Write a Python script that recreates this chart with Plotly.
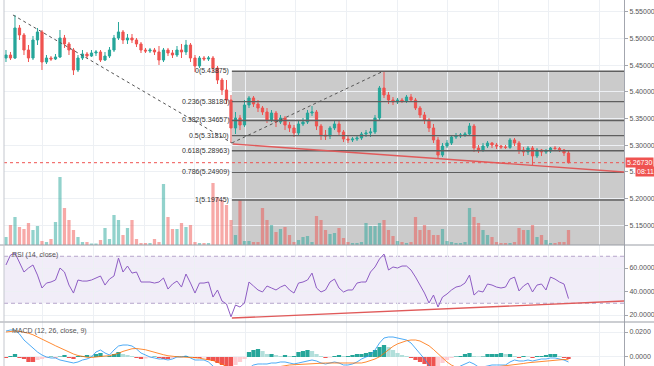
import plotly.graph_objects as go

# ---------------- data ----------------
open_ = [5.4637, 5.4693, 5.4637, 5.5200, 5.5069, 5.4787, 5.4637, 5.4975, 5.5125, 5.4562,
         5.4637, 5.4618, 5.4656, 5.5012, 5.4900, 5.4787, 5.4412, 5.4637, 5.4712, 5.4674,
         5.4731, 5.4750, 5.4599, 5.4674, 5.4787, 5.5012, 5.5125, 5.4975, 5.5012, 5.4975,
         5.4900, 5.4787, 5.4768, 5.4787, 5.4750, 5.4599, 5.4787, 5.4731, 5.4693, 5.4787,
         5.4750, 5.4881, 5.4637, 5.4487, 5.4637, 5.4618, 5.4637, 5.4449, 5.4224, 5.4037,
         5.3849, 5.3324, 5.3511, 5.3380, 5.3755, 5.3887, 5.3774, 5.3699, 5.3624, 5.3474,
         5.3605, 5.3436, 5.3511, 5.3380, 5.3324, 5.3230, 5.3399, 5.3436, 5.3605, 5.3624,
         5.3361, 5.3192, 5.3174, 5.3324, 5.3399, 5.3249, 5.3117, 5.3099, 5.3117, 5.3136,
         5.3211, 5.3230, 5.3249, 5.3511, 5.4074, 5.3943, 5.3849, 5.3812, 5.3849, 5.3830,
         5.3905, 5.3849, 5.3699, 5.3568, 5.3474, 5.3324, 5.3099, 5.2817, 5.2986, 5.3042,
         5.3155, 5.3174, 5.3192, 5.3211, 5.3361, 5.2948, 5.2911, 5.2986, 5.3042, 5.3005,
         5.2986, 5.2967, 5.2960, 5.3099, 5.3042, 5.2911, 5.2873, 5.2948, 5.2798, 5.2911,
         5.2873, 5.2892, 5.2948, 5.2939, 5.2911, 5.2855]
high = [5.4787, 5.4750, 5.5444, 5.5256, 5.5106, 5.4881, 5.5050, 5.5200, 5.5162, 5.4693,
        5.4674, 5.4712, 5.5162, 5.5069, 5.4937, 5.4825, 5.4693, 5.4787, 5.4750, 5.4787,
        5.4787, 5.4787, 5.4750, 5.4843, 5.5069, 5.5312, 5.5162, 5.5087, 5.5087, 5.5012,
        5.4937, 5.4825, 5.4825, 5.4825, 5.4862, 5.4825, 5.4825, 5.4787, 5.4862, 5.4900,
        5.4975, 5.4918, 5.4693, 5.4674, 5.4674, 5.4674, 5.4674, 5.4487, 5.4262, 5.4224,
        5.3943, 5.3624, 5.3568, 5.3849, 5.3924, 5.3924, 5.3849, 5.3736, 5.3699, 5.3661,
        5.3643, 5.3568, 5.3549, 5.3436, 5.3380, 5.3455, 5.3511, 5.3661, 5.3736, 5.3661,
        5.3399, 5.3286, 5.3361, 5.3474, 5.3455, 5.3286, 5.3174, 5.3155, 5.3192, 5.3249,
        5.3286, 5.3324, 5.3568, 5.4112, 5.4393, 5.3999, 5.3905, 5.3887, 5.3887, 5.3943,
        5.3962, 5.3887, 5.3736, 5.3624, 5.3511, 5.3399, 5.3155, 5.3042, 5.3099, 5.3192,
        5.3230, 5.3230, 5.3249, 5.3417, 5.3399, 5.3005, 5.3042, 5.3080, 5.3061, 5.3042,
        5.3005, 5.3005, 5.3136, 5.3136, 5.3080, 5.2967, 5.2986, 5.2986, 5.2948, 5.2930,
        5.2930, 5.2967, 5.2986, 5.2967, 5.2930, 5.2892]
low = [5.4562, 5.4599, 5.4618, 5.4975, 5.4693, 5.4562, 5.4599, 5.4881, 5.4412, 5.4524,
       5.4581, 5.4599, 5.4637, 5.4825, 5.4693, 5.4318, 5.4374, 5.4599, 5.4637, 5.4656,
       5.4674, 5.4562, 5.4581, 5.4637, 5.4750, 5.4975, 5.4900, 5.4900, 5.4918, 5.4843,
       5.4731, 5.4731, 5.4731, 5.4693, 5.4506, 5.4562, 5.4674, 5.4637, 5.4656, 5.4637,
       5.4693, 5.4562, 5.4374, 5.4449, 5.4581, 5.4581, 5.4374, 5.4149, 5.3943, 5.3774,
       5.3042, 5.3211, 5.3286, 5.3342, 5.3699, 5.3718, 5.3624, 5.3568, 5.3417, 5.3436,
       5.3342, 5.3399, 5.3286, 5.3249, 5.3155, 5.3192, 5.3361, 5.3399, 5.3549, 5.3286,
       5.3099, 5.3099, 5.3117, 5.3286, 5.3174, 5.3061, 5.3042, 5.3061, 5.3080, 5.3099,
       5.3155, 5.3155, 5.3211, 5.3474, 5.3887, 5.3774, 5.3755, 5.3774, 5.3793, 5.3793,
       5.3812, 5.3661, 5.3511, 5.3399, 5.3249, 5.3042, 5.2761, 5.2780, 5.2948, 5.3005,
       5.3117, 5.3136, 5.3155, 5.3174, 5.2873, 5.2855, 5.2873, 5.2948, 5.2948, 5.2930,
       5.2930, 5.2930, 5.2930, 5.2986, 5.2836, 5.2798, 5.2817, 5.2630, 5.2761, 5.2798,
       5.2836, 5.2855, 5.2892, 5.2873, 5.2798, 5.2658]
close = [5.4693, 5.4637, 5.5200, 5.5069, 5.4787, 5.4637, 5.4975, 5.5125, 5.4562, 5.4637,
         5.4618, 5.4656, 5.5012, 5.4900, 5.4787, 5.4412, 5.4637, 5.4712, 5.4674, 5.4731,
         5.4750, 5.4599, 5.4674, 5.4787, 5.5012, 5.5125, 5.4975, 5.5012, 5.4975, 5.4900,
         5.4787, 5.4768, 5.4787, 5.4750, 5.4599, 5.4787, 5.4731, 5.4693, 5.4787, 5.4750,
         5.4881, 5.4637, 5.4487, 5.4637, 5.4618, 5.4637, 5.4449, 5.4224, 5.4037, 5.3849,
         5.3324, 5.3511, 5.3380, 5.3755, 5.3887, 5.3774, 5.3699, 5.3624, 5.3474, 5.3605,
         5.3436, 5.3511, 5.3380, 5.3324, 5.3230, 5.3399, 5.3436, 5.3605, 5.3624, 5.3361,
         5.3192, 5.3174, 5.3324, 5.3399, 5.3249, 5.3117, 5.3099, 5.3117, 5.3136, 5.3211,
         5.3230, 5.3249, 5.3511, 5.4074, 5.3943, 5.3849, 5.3812, 5.3849, 5.3830, 5.3905,
         5.3849, 5.3699, 5.3568, 5.3474, 5.3324, 5.3099, 5.2817, 5.2986, 5.3042, 5.3155,
         5.3174, 5.3192, 5.3211, 5.3361, 5.2948, 5.2911, 5.2986, 5.3042, 5.3005, 5.2986,
         5.2967, 5.2960, 5.3099, 5.3042, 5.2911, 5.2873, 5.2948, 5.2798, 5.2911, 5.2873,
         5.2892, 5.2948, 5.2939, 5.2911, 5.2855, 5.2673]
volume = [80, 200, 280, 180, 160, 220, 150, 190, 40, 30,
          60, 230, 680, 370, 250, 150, 80, 30, 30, 15,
          15, 50, 170, 60, 300, 250, 100, 170, 250, 60,
          20, 20, 20, 60, 30, 610, 280, 160, 160, 220,
          180, 200, 30, 20, 20, 20, 620, 480, 450, 400,
          250, 100, 450, 40, 40, 30, 30, 370, 250, 200,
          130, 160, 180, 100, 30, 50, 80, 90, 30, 290,
          250, 150, 110, 120, 170, 70, 30, 20, 20, 30,
          220, 190, 190, 220, 250, 150, 90, 40, 30, 20,
          30, 280, 150, 200, 150, 100, 100, 160, 40, 30,
          20, 20, 30, 370, 280, 220, 150, 100, 80, 30,
          20, 20, 20, 30, 170, 150, 150, 200, 80, 100,
          50, 20, 20, 30, 30, 150]
rsi = [62.6, 71.0, 72.8, 65.0, 56.6, 60.0, 62.6, 54.0, 43.0, 47.2,
       48.1, 49.8, 60.0, 56.6, 45.5, 38.7, 49.8, 48.9, 48.9, 49.8,
       51.5, 53.2, 45.5, 50.6, 53.2, 68.5, 56.6, 61.7, 55.7, 56.6,
       48.1, 48.1, 48.1, 47.2, 48.1, 51.5, 42.1, 46.4, 48.9, 43.8,
       54.9, 47.2, 38.7, 47.2, 47.2, 48.1, 35.3, 41.3, 31.9, 29.4,
       18.5, 28.5, 26.8, 30.2, 48.1, 44.7, 41.3, 39.6, 44.7, 43.0,
       41.3, 43.8, 45.5, 41.3, 38.7, 47.2, 48.1, 49.8, 55.7, 43.0,
       39.6, 41.3, 48.1, 50.6, 43.0, 39.6, 41.3, 41.3, 47.2, 48.1,
       48.1, 56.6, 60.9, 67.7, 71.9, 58.3, 60.9, 60.0, 61.7, 61.7,
       58.3, 52.3, 45.5, 38.7, 30.2, 37.0, 26.8, 35.3, 37.9, 41.3,
       43.8, 44.7, 47.2, 54.0, 37.0, 40.5, 39.6, 46.4, 45.5, 43.8,
       43.0, 43.8, 50.6, 52.3, 40.5, 44.7, 47.2, 39.6, 45.5, 46.4,
       41.3, 52.3, 50.6, 48.1, 46.4, 34.0]
macd = [0.0208, 0.0216, 0.0216, 0.0184, 0.0136, 0.0104, 0.0080, 0.0040, 0.0016, 0.0000,
        -0.0008, -0.0008, -0.0024, -0.0032, -0.0040, -0.0048, -0.0040, -0.0024, -0.0016, 0.0000,
        0.0040, 0.0056, 0.0032, 0.0016, 0.0056, 0.0088, 0.0096, 0.0096, 0.0088, 0.0064,
        0.0032, 0.0016, 0.0000, -0.0008, -0.0016, -0.0016, -0.0024, -0.0016, 0.0000, 0.0000,
        0.0008, -0.0008, -0.0024, -0.0024, -0.0024, -0.0040, -0.0072, -0.0096, -0.0128, -0.0160,
        -0.0200, -0.0192, -0.0176, -0.0136, -0.0088, -0.0064, -0.0056, -0.0056, -0.0056, -0.0048,
        -0.0048, -0.0040, -0.0040, -0.0048, -0.0056, -0.0048, -0.0040, -0.0032, -0.0024, -0.0032,
        -0.0048, -0.0056, -0.0048, -0.0040, -0.0048, -0.0064, -0.0064, -0.0056, -0.0040, -0.0016,
        0.0000, 0.0016, 0.0056, 0.0112, 0.0152, 0.0160, 0.0160, 0.0152, 0.0144, 0.0136,
        0.0112, 0.0072, 0.0032, -0.0016, -0.0064, -0.0104, -0.0152, -0.0152, -0.0136, -0.0112,
        -0.0096, -0.0072, -0.0056, -0.0040, -0.0056, -0.0080, -0.0080, -0.0072, -0.0064, -0.0064,
        -0.0064, -0.0064, -0.0040, -0.0024, -0.0032, -0.0032, -0.0024, -0.0032, -0.0024, -0.0016,
        -0.0016, -0.0008, -0.0008, -0.0016, -0.0024, -0.0040]
signal = [0.0200, 0.0205, 0.0208, 0.0206, 0.0200, 0.0190, 0.0178, 0.0162, 0.0144, 0.0125,
          0.0108, 0.0090, 0.0072, 0.0055, 0.0040, 0.0024, 0.0012, 0.0004, -0.0002, -0.0004,
          -0.0002, 0.0004, 0.0008, 0.0010, 0.0018, 0.0030, 0.0045, 0.0058, 0.0066, 0.0068,
          0.0066, 0.0058, 0.0048, 0.0036, 0.0026, 0.0018, 0.0010, 0.0004, 0.0002, 0.0000,
          0.0000, -0.0002, -0.0006, -0.0010, -0.0014, -0.0018, -0.0028, -0.0042, -0.0060, -0.0080,
          -0.0104, -0.0122, -0.0134, -0.0140, -0.0138, -0.0130, -0.0120, -0.0110, -0.0100, -0.0090,
          -0.0082, -0.0074, -0.0068, -0.0064, -0.0062, -0.0060, -0.0057, -0.0054, -0.0050, -0.0046,
          -0.0046, -0.0048, -0.0048, -0.0048, -0.0048, -0.0050, -0.0052, -0.0054, -0.0052, -0.0048,
          -0.0040, -0.0030, -0.0016, 0.0002, 0.0030, 0.0060, 0.0085, 0.0105, 0.0120, 0.0130,
          0.0136, 0.0136, 0.0128, 0.0112, 0.0090, 0.0060, 0.0025, -0.0010, -0.0040, -0.0065,
          -0.0085, -0.0098, -0.0104, -0.0104, -0.0100, -0.0096, -0.0092, -0.0088, -0.0084, -0.0080,
          -0.0076, -0.0074, -0.0070, -0.0064, -0.0058, -0.0052, -0.0046, -0.0042, -0.0038, -0.0034,
          -0.0030, -0.0026, -0.0022, -0.0020, -0.0020, -0.0022]
hist = [-0.0008, 0.0008, 0.0024, -0.0008, -0.0016, -0.0040, -0.0040, -0.0024, -0.0016, -0.0008,
        0.0004, -0.0004, 0.0004, 0.0016, -0.0008, -0.0016, 0.0008, 0.0008, 0.0016, 0.0012,
        0.0024, 0.0032, 0.0008, 0.0008, 0.0024, 0.0040, 0.0024, 0.0016, 0.0008, -0.0008,
        -0.0016, -0.0012, -0.0004, 0.0004, -0.0008, -0.0016, -0.0016, -0.0012, 0.0004, 0.0004,
        0.0008, 0.0004, -0.0008, -0.0008, -0.0004, -0.0024, -0.0032, -0.0048, -0.0064, -0.0072,
        -0.0080, -0.0064, -0.0040, -0.0016, 0.0040, 0.0056, 0.0064, 0.0048, 0.0024, 0.0024,
        0.0016, 0.0008, 0.0016, 0.0008, 0.0008, 0.0040, 0.0048, 0.0056, 0.0048, 0.0024,
        0.0008, -0.0008, -0.0004, 0.0008, 0.0016, 0.0008, 0.0008, 0.0016, 0.0024, 0.0024,
        0.0032, 0.0040, 0.0056, 0.0080, 0.0096, 0.0080, 0.0056, 0.0032, 0.0016, 0.0008,
        -0.0008, -0.0024, -0.0040, -0.0056, -0.0072, -0.0088, -0.0072, -0.0048, -0.0024, -0.0008,
        0.0004, 0.0008, 0.0024, 0.0032, 0.0008, 0.0004, 0.0004, 0.0024, 0.0024, 0.0024,
        0.0032, 0.0024, 0.0024, 0.0008, -0.0008, 0.0008, 0.0004, -0.0008, 0.0008, 0.0008,
        0.0016, 0.0024, 0.0024, 0.0008, -0.0008, -0.0016]

price_ticks = [5.15, 5.20, 5.25, 5.30, 5.35, 5.40, 5.45, 5.50, 5.55]
# the 5.25 label is mostly hidden behind the countdown box; only "5." shows
price_ticktext = ["5.15000", "5.20000", "5.", "5.30000", "5.35000",
                  "5.40000", "5.45000", "5.50000", "5.55000"]
rsi_ticks = [20, 40, 60]
rsi_ticktext = ["20.0000", "40.0000", "60.0000"]
macd_ticks = [0.0, 0.02]
macd_ticktext = ["0.0000", "0.0200"]

fib_ratios = [0, 0.236, 0.382, 0.5, 0.618, 0.786, 1]
fib_levels = [5.43875, 5.38180, 5.34657, 5.31810, 5.28963, 5.24909, 5.19745]
last_price = 5.26730
countdown = "08:11"
countdown_level = 5.25
rsi_bands = [30, 70]

# drawing anchors: (bar index, value)
fib_bar = 50.2
down_line = [(1.55, 5.5444), (50.2, 5.3043)]
fib_diag = [(50.2, 5.3043), (83.8, 5.43875)]
price_trend = [(50.4, 5.3024), (137.4, 5.2499)]
rsi_trend = [(50.2, 17.4), (137.4, 31.9)]

# ---------------- style ----------------
UP, DOWN = "#26a69a", "#ef5350"
GRID = "#edf0f4"
AXIS = "#a3a6ae"
TXT = "#555555"
FONT = "Liberation Sans"

x = list(range(len(close)))
XR = [-0.44, 137.33]

vol_colors = ["rgba(38,166,154,0.5)" if c >= o else "rgba(239,83,80,0.5)"
              for o, c in zip(open_, close)]
hist_colors = []
prev = 0.0
for h in hist:
    if h >= 0:
        hist_colors.append("#26a69a" if h >= prev else "#b2dfdb")
    else:
        hist_colors.append("#ef5350" if h <= prev else "#ffcdd2")
    prev = h

fig = go.Figure()
fig.add_trace(go.Bar(x=x, y=volume, marker=dict(color=vol_colors, line=dict(width=0)),
                     width=0.72, xaxis="x", yaxis="y", hoverinfo="skip"))
fig.add_trace(go.Candlestick(x=x, open=open_, high=high, low=low, close=close,
                             xaxis="x", yaxis="y2", whiskerwidth=0,
                             increasing=dict(line=dict(color=UP, width=1), fillcolor=UP),
                             decreasing=dict(line=dict(color=DOWN, width=1), fillcolor=DOWN),
                             hoverinfo="skip"))
fig.add_trace(go.Scatter(x=x, y=rsi, mode="lines", line=dict(color="#8e5cc4", width=1),
                         xaxis="x2", yaxis="y3", hoverinfo="skip"))
fig.add_trace(go.Bar(x=x, y=hist, marker=dict(color=hist_colors, line=dict(width=0)),
                     width=0.95, xaxis="x3", yaxis="y4", hoverinfo="skip"))
fig.add_trace(go.Scatter(x=x, y=macd, mode="lines", line=dict(color="#2196f3", width=0.8),
                         xaxis="x3", yaxis="y4", hoverinfo="skip"))
fig.add_trace(go.Scatter(x=x, y=signal, mode="lines", line=dict(color="#ff6d00", width=0.8),
                         xaxis="x3", yaxis="y4", hoverinfo="skip"))

D_MAIN = [0.3306, 1.0]
D_RSI = [0.1202, 0.3306]
D_MACD = [0.0, 0.1202]

def xax(anchor):
    return dict(domain=[0, 1], anchor=anchor, range=XR, tickmode="linear", tick0=8.22,
                dtick=11.24, showticklabels=False, ticks="", showgrid=True, gridcolor=GRID,
                gridwidth=1, zeroline=False, showline=False, fixedrange=True)

def yax(**kw):
    d = dict(side="right", showgrid=True, gridcolor=GRID, zeroline=False, showline=True,
             linecolor=AXIS, linewidth=1, ticks="outside", ticklen=3, tickcolor=AXIS,
             tickfont=dict(size=7, color=TXT, family=FONT), fixedrange=True)
    d.update(kw)
    return d

shapes = []
# fib background box and levels
shapes.append(dict(type="rect", xref="x", yref="y2", x0=fib_bar, x1=150, y0=5.0,
                   y1=fib_levels[0], fillcolor="#cbcbcb", line=dict(width=0), layer="below"))
for lvl in fib_levels:
    shapes.append(dict(type="line", xref="x", yref="y2", x0=fib_bar, x1=150, y0=lvl, y1=lvl,
                       line=dict(color="#5f5f5f", width=1.4)))
# dashed diagonals
for seg in (down_line, fib_diag):
    shapes.append(dict(type="line", xref="x", yref="y2", x0=seg[0][0], y0=seg[0][1],
                       x1=seg[1][0], y1=seg[1][1], line=dict(color="#555555", width=1, dash="3px,3px")))
# red trend line and last-price line
shapes.append(dict(type="line", xref="x", yref="y2", x0=price_trend[0][0], y0=price_trend[0][1],
                   x1=price_trend[1][0], y1=price_trend[1][1], line=dict(color="#e05a5a", width=1.4)))
shapes.append(dict(type="line", xref="paper", yref="y2", x0=0, x1=1, y0=last_price, y1=last_price,
                   line=dict(color="#ef5350", width=1, dash="dot")))
# RSI band
shapes.append(dict(type="rect", xref="paper", yref="y3", x0=0, x1=1, y0=rsi_bands[0], y1=rsi_bands[1],
                   fillcolor="rgba(126,87,194,0.11)", line=dict(width=0), layer="below"))
for b in rsi_bands:
    shapes.append(dict(type="line", xref="paper", yref="y3", x0=0, x1=1, y0=b, y1=b,
                       line=dict(color="#b7a6cc", width=1, dash="4px,3px"), layer="below"))
shapes.append(dict(type="line", xref="x2", yref="y3", x0=rsi_trend[0][0], y0=rsi_trend[0][1],
                   x1=rsi_trend[1][0], y1=rsi_trend[1][1], line=dict(color="#e05a5a", width=1.4)))
# pane separators and left border
for yy in (D_RSI[1], D_MACD[1]):
    shapes.append(dict(type="line", xref="paper", yref="paper", x0=-0.0065, x1=1.05, y0=yy, y1=yy,
                       line=dict(color="#9a9da5", width=1.2)))
shapes.append(dict(type="line", xref="paper", yref="paper", x0=0, x1=0, y0=0, y1=1,
                   line=dict(color="#c4c7ce", width=1)))

annotations = []
for r, lvl in zip(fib_ratios, fib_levels):
    annotations.append(dict(x=fib_bar - 0.1, y=lvl, xref="x", yref="y2", xanchor="right",
                            yanchor="middle", text=f"{r:g}({lvl:.5f})", showarrow=False,
                            font=dict(size=7, color="#333333", family=FONT)))
annotations.append(dict(x=0.01, y=D_RSI[1] - 0.027, xref="paper", yref="paper", xanchor="left",
                        yanchor="middle", text="RSI (14, close)", showarrow=False,
                        font=dict(size=7, color=TXT, family=FONT)))
annotations.append(dict(x=0.01, y=D_MACD[1] - 0.025, xref="paper", yref="paper", xanchor="left",
                        yanchor="middle", text="MACD (12, 26, close, 9)", showarrow=False,
                        font=dict(size=7, color=TXT, family=FONT)))
annotations.append(dict(x=1.0016, y=last_price, xref="paper", yref="y2", xanchor="left",
                        yanchor="middle", text=f"{last_price:.5f}", showarrow=False,
                        bgcolor="#ef5350", borderpad=1,
                        font=dict(size=7, color="white", family=FONT)))
annotations.append(dict(x=1.0172, y=countdown_level, xref="paper", yref="y2", xanchor="left",
                        yanchor="middle", text=countdown, showarrow=False,
                        bgcolor="#ef5350", borderpad=1,
                        font=dict(size=7, color="white", family=FONT)))

fig.update_layout(
    width=654, height=366, margin=dict(l=4, r=30, t=0, b=0),
    paper_bgcolor="white", plot_bgcolor="white", showlegend=False, hovermode=False,
    font=dict(family=FONT, size=7, color=TXT),
    xaxis=dict(xax("y"), rangeslider=dict(visible=False)),
    xaxis2=xax("y3"),
    xaxis3=xax("y4"),
    yaxis=dict(domain=D_MAIN, anchor="x", range=[0, 2450], visible=False, showgrid=False,
               fixedrange=True),
    yaxis2=yax(overlaying="y", anchor="x", range=[5.1129, 5.5725], tickmode="array",
               tickvals=price_ticks, ticktext=price_ticktext),
    yaxis3=yax(domain=D_RSI, anchor="x2", range=[14.05, 79.6], tickmode="array",
               tickvals=rsi_ticks, ticktext=rsi_ticktext),
    yaxis4=yax(domain=D_MACD, anchor="x3", range=[-0.0072, 0.028], tickmode="array",
               tickvals=macd_ticks, ticktext=macd_ticktext),
    shapes=shapes, annotations=annotations,
)

fig.write_html("out.html", config={"displayModeBar": False, "staticPlot": True},
               post_script="document.body.style.margin='0';")
